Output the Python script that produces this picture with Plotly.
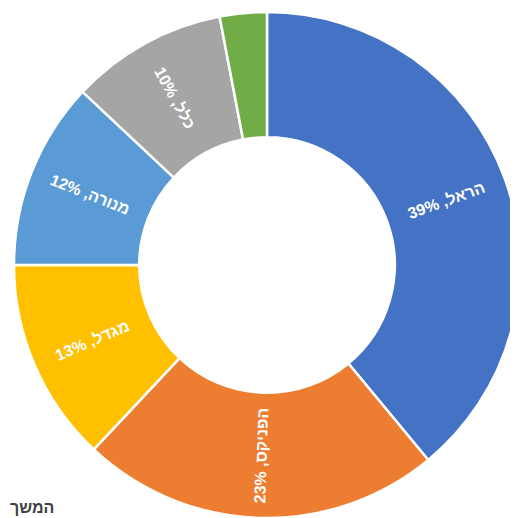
import math
import plotly.graph_objects as go

labels = ["הראל", "הפניקס", "מגדל", "מנורה", "כלל", "אחרים"]
values = [39, 23, 13, 12, 10, 3]
show_label = [True, True, True, True, True, False]
colors = ["#4472C4", "#ED7D31", "#FFC000", "#5B9BD5", "#A5A5A5", "#70AD47"]

W = H = 518
HOLE = 0.505
dom_x = [6 / W, 512 / W]
dom_y = [8 / H, 514 / H]

fig = go.Figure(go.Pie(
    labels=labels,
    values=values,
    textinfo="none",
    hole=HOLE,
    sort=False,
    direction="clockwise",
    rotation=0,
    marker=dict(colors=colors, line=dict(color="white", width=2.5)),
    domain=dict(x=dom_x, y=dom_y),
    showlegend=False,
    hoverinfo="label+percent",
))

# radial labels placed at each slice's mid-angle (derived from the values)
cx = (dom_x[0] + dom_x[1]) / 2 * W
cy = (1 - (dom_y[0] + dom_y[1]) / 2) * H
R = min((dom_x[1] - dom_x[0]) * W, (dom_y[1] - dom_y[0]) * H) / 2
r_mid = R * (1 + HOLE) / 2
total = sum(values)
cum = 0
for lab, v, s in zip(labels, values, show_label):
    mid = (cum + v / 2) / total * 360
    cum += v
    if not s:
        continue
    th = math.radians(mid)
    px = cx + r_mid * math.sin(th)
    py = cy - r_mid * math.cos(th)
    ang = mid - 90 if mid < 180 else mid - 270
    fig.add_annotation(
        text=f"<b>{lab}, {v}%</b>", x=px / W, y=1 - py / H,
        xref="paper", yref="paper", xanchor="center", yanchor="middle",
        showarrow=False, textangle=ang,
        font=dict(size=16, color="white", family="Liberation Sans, DejaVu Sans, Arial"),
    )

fig.add_annotation(
    text="<b>המשך</b>", x=0, y=1 - 499 / H, xref="paper", yref="paper",
    xanchor="left", yanchor="middle", showarrow=False,
    font=dict(size=16, color="#404040", family="Liberation Sans, DejaVu Sans, Arial"),
)

fig.update_layout(
    width=W, height=H,
    margin=dict(l=0, r=0, t=0, b=0),
    paper_bgcolor="white",
    plot_bgcolor="white",
)

fig.write_html("out.html")
